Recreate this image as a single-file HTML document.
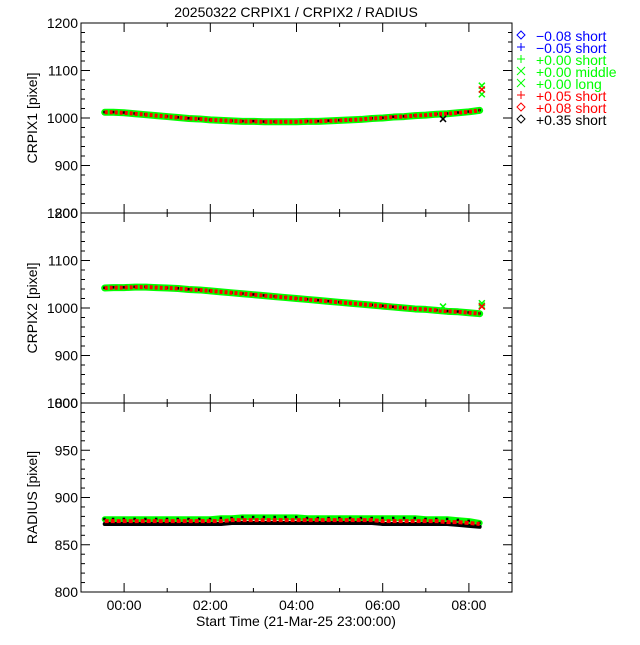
<!DOCTYPE html>
<html><head><meta charset="utf-8"><style>
body{margin:0;background:#fff}
svg text{font-family:"Liberation Sans",sans-serif;font-size:14px}
</style></head><body>
<svg id="c" width="640" height="640" xmlns="http://www.w3.org/2000/svg">
<rect width="640" height="640" fill="#fff"/>
<text x="296" y="17" text-anchor="middle" font-size="16">20250322 CRPIX1 / CRPIX2 / RADIUS</text>
<g id="legend"></g>
</svg>
<script>
const times=[-0.45,-0.25,0,0.25,0.5,0.75,1,1.25,1.5,1.75,2,2.25,2.5,2.75,3,3.25,3.5,3.75,4,4.25,4.5,4.75,5,5.25,5.5,5.75,6,6.25,6.5,6.75,7,7.25,7.5,7.75,8,8.25];
const crpix1=[1012,1012,1011,1009,1007,1005,1003,1001,999,998,996,995,994,993,993,992,992,992,992,993,993,994,995,996,997,999,1000,1002,1003,1005,1006,1008,1009,1011,1013,1016];
const crpix2=[1042,1043,1043,1044,1044,1043,1042,1041,1039,1038,1036,1034,1032,1030,1028,1026,1024,1022,1020,1018,1016,1014,1012,1010,1008,1006,1004,1002,1000,998,997,995,993,992,990,988];
const radiusGreen=[877,877,877,877,877,877,877,877,877,877,877,878,878,879,879,879,879,879,879,878,878,878,878,878,878,878,878,878,878,878,877,877,877,876,875,873];
const radiusRed=[875,875,875,875,875,875,875,875,875,875,875,875,876,876,876,876,876,876,876,876,876,876,876,876,876,876,875,875,875,875,875,875,874,874,873,872];
const radiusBlack=[872,872,872,872,872,872,872,872,872,872,872,872,873,873,873,873,873,873,873,873,873,873,873,873,873,873,872,872,872,872,872,872,872,871,870,869];
const outlierTimes=[7.4,8.3,8.3,8.3];
const outlier1=[998,1068,1050,1060];
const outlier2=[1003,1005,1010,1003];
const xTicks=["00:00","02:00","04:00","06:00","08:00"];
const legendLabels=["\u22120.08 short","\u22120.05 short","+0.00 short","+0.00 middle","+0.00 long","+0.05 short","+0.08 short","+0.35 short"];
const legendColors=["#0000ff","#0000ff","#00ff00","#00ff00","#00ff00","#ff0000","#ff0000","#000000"];
const legendSyms=["d","+","+","x","x","+","d","d"];

const NS="http://www.w3.org/2000/svg";
const svg=document.getElementById('c');
const X0=81,X1=512;
const xs=t=>X0+(t+1)/10*(X1-X0);
function el(tag,attrs,parent){const e=document.createElementNS(NS,tag);for(const k in attrs)e.setAttribute(k,attrs[k]);(parent||svg).appendChild(e);return e;}

const panels=[
 {top:23,bot:213,min:800,max:1200,maj:100,minor:20,label:"CRPIX1 [pixel]",name:"crpix1"},
 {top:213,bot:403,min:800,max:1200,maj:100,minor:20,label:"CRPIX2 [pixel]",name:"crpix2"},
 {top:403,bot:592,min:800,max:1000,maj:50,minor:10,label:"RADIUS [pixel]",name:"radius"}];
panels.forEach((p,i)=>{
 p.ys=v=>p.bot-(v-p.min)/(p.max-p.min)*(p.bot-p.top);
 const g=el('g',{});
 
 
 const r=el('rect',{x:X0,y:p.top,width:X1-X0,height:p.bot-p.top,fill:'none',stroke:'#000','stroke-width':1},g);
 
 
 for(let v=p.min;v<=p.max;v+=p.minor){
  const y=p.ys(v),len=(v%p.maj===0)?9:4;
  el('line',{x1:X0,x2:X0+len,y1:y,y2:y,stroke:'#000'},g);
  el('line',{x1:X1,x2:X1-len,y1:y,y2:y,stroke:'#000'},g);
  if(v%p.maj===0){const t=el('text',{x:X0-3,y:y+5,'text-anchor':'end'},g);t.textContent=v;
   
   }
 }
 for(let h=-1;h<=9;h++){
  const x=xs(h),len=(h%2===0)?9:4;
  el('line',{x1:x,x2:x,y1:p.bot,y2:p.bot-len,stroke:'#000'},g);
  el('line',{x1:x,x2:x,y1:p.top,y2:p.top+len,stroke:'#000'},g);
 }
 const yl=el('text',{x:37,y:(p.top+p.bot)/2,'text-anchor':'middle',transform:`rotate(-90 37 ${(p.top+p.bot)/2})`},g);
 yl.textContent=p.label;
 
 
});
xTicks.forEach((s,i)=>{const t=el('text',{x:xs(i*2),y:610,'text-anchor':'middle'});t.textContent=s;
 
 });
const xt=el('text',{x:296,y:626,'text-anchor':'middle'});xt.textContent="Start Time (21-Mar-25 23:00:00)";



function series(p,vals,color,width,off,name){
 const pts=times.map((t,i)=>xs(t)+','+(p.ys(vals[i])+off)).join(' ');
 const l=el('polyline',{points:pts,fill:'none',stroke:color,'stroke-width':width,'stroke-linejoin':'round','stroke-linecap':'round'});
 
 
 times.forEach((t,i)=>{
  const c=el('rect',{x:xs(t)-1.5,y:p.ys(vals[i])+off-1.5,width:2.5,height:2.5,fill:'#000'});
  
  
 });
}
function series3(p,vals,name){
 series(p,vals,'#00ff00',7,0,name+'-green');
 const r=el('polyline',{points:times.map((t,i)=>xs(t)+','+p.ys(vals[i])).join(' '),fill:'none',stroke:'#ff0000','stroke-width':4,'stroke-dasharray':'3 2'});
 
 
}
series3(panels[0],crpix1,'crpix1-series');
series3(panels[1],crpix2,'crpix2-series');
const p3=panels[2];
series(p3,radiusGreen,'#00ff00',6,0,'radius-green');
series(p3,radiusBlack,'#000',4,0,'radius-black');
const rr=el('polyline',{points:times.map((t,i)=>xs(t)+','+p3.ys(radiusRed[i])).join(' '),fill:'none',stroke:'#ff0000','stroke-width':4,'stroke-dasharray':'4 2'});



function cross(x,y,c,name){
 const g=el('g',{stroke:c,'stroke-width':1.5});
 
 
 el('line',{x1:x-3,y1:y-3,x2:x+3,y2:y+3},g);el('line',{x1:x-3,y1:y+3,x2:x+3,y2:y-3},g);
}
const ocol=['#000','#00ff00','#00ff00','#ff0000'];
outlierTimes.forEach((t,i)=>{
 cross(xs(t),panels[0].ys(outlier1[i]),ocol[i],'crpix1-outlier');
 cross(xs(t),panels[1].ys(outlier2[i]),i===0?'#00ff00':ocol[i],'crpix2-outlier');
});

const lg=document.getElementById('legend');
legendLabels.forEach((s,i)=>{
 const y=40+i*12,x=517,c=legendColors[i],sym=legendSyms[i];
 const g=el('g',{},lg);
 
 
 if(sym==='d')el('polygon',{points:`${x+4},${y-9} ${x+8},${y-5} ${x+4},${y-1} ${x},${y-5}`,fill:'none',stroke:c},g);
 else if(sym==='+'){el('line',{x1:x,x2:x+8,y1:y-5,y2:y-5,stroke:c},g);el('line',{x1:x+4,x2:x+4,y1:y-9,y2:y-1,stroke:c},g);}
 else{el('line',{x1:x,x2:x+8,y1:y-9,y2:y-1,stroke:c},g);el('line',{x1:x,x2:x+8,y1:y-1,y2:y-9,stroke:c},g);}
 const t=el('text',{x:536,y:y+1,fill:c},g);t.textContent=s;
});
</script>
</body></html>
